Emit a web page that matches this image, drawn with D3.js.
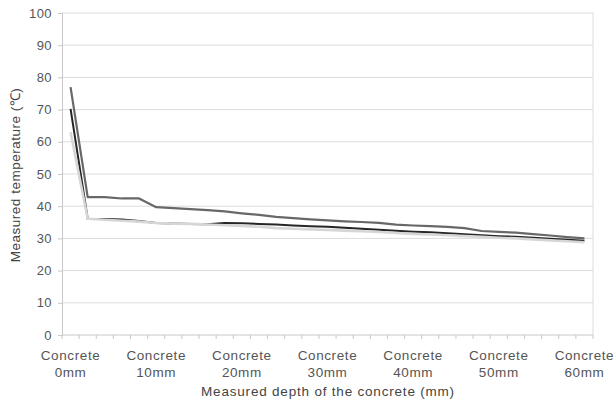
<!DOCTYPE html>
<html><head><meta charset="utf-8">
<script src="https://cdn.jsdelivr.net/npm/d3@7"></script>
<style>body{margin:0;background:#fff}svg{display:block}</style>
</head><body><svg id="c" width="613" height="406"></svg>
<script>
const depths = d3.range(0, 61, 2).map(d => d + "mm");
const labelDepths = ["0mm","10mm","20mm","30mm","40mm","50mm","60mm"];
const yTicks = [0,10,20,30,40,50,60,70,80,90,100];
const seriesTop = [77,42.8,42.8,42.4,42.4,39.7,39.4,39.1,38.8,38.4,37.8,37.3,36.7,36.3,35.9,35.6,35.3,35.1,34.8,34.3,34.0,33.8,33.6,33.2,32.3,32.0,31.8,31.3,30.9,30.4,30.0];
const seriesBlack = [70.2,36.1,36.0,35.9,35.4,34.8,34.6,34.5,34.4,34.8,34.7,34.5,34.3,34.0,33.8,33.6,33.3,33.0,32.7,32.4,32.1,31.9,31.6,31.3,31.0,30.7,30.5,30.2,29.9,29.6,29.3];
const seriesLight = [63,36.1,35.8,35.5,35.2,34.8,34.6,34.5,34.3,34.1,33.9,33.6,33.2,33.0,32.8,32.6,32.4,32.2,32.0,31.7,31.4,31.2,31.0,30.7,30.5,30.2,30.0,29.7,29.4,29.1,28.8];
const series = [
  {values: seriesBlack, color: "#262626", width: 2},
  {values: seriesLight, color: "#d6d6d6", width: 2.6},
  {values: seriesTop, color: "#686868", width: 2.2}
];

const svg = d3.select("#c");
const L = 62, R = 593, T = 13, B = 335;
const x = d3.scaleBand().domain(depths).range([L, R]);
const y = d3.scaleLinear().domain([0, 100]).range([B, T]);
const font = "'Liberation Sans', Arial, sans-serif";

// gridlines
svg.append("g").selectAll("line").data(yTicks.filter(d => d > 0)).join("line")
  .attr("x1", L).attr("x2", R).attr("y1", d => y(d)).attr("y2", d => y(d))
  .attr("stroke", "#dcdcdc").attr("stroke-width", 1);
// right border
svg.append("line").attr("x1", R).attr("x2", R).attr("y1", T).attr("y2", B)
  .attr("stroke", "#dcdcdc");

// y axis
const ya = svg.append("g").attr("transform", `translate(${L},0)`)
  .call(d3.axisLeft(y).tickValues(yTicks).tickSize(4).tickPadding(6));
ya.select(".domain").attr("stroke", "#c8c8c8");
ya.selectAll(".tick line").attr("stroke", "#c8c8c8");
ya.selectAll("text").attr("fill", "#555").style("font-family", font).style("font-size", "13px")
  .style("letter-spacing", "0.4px");

// x axis with ticks at category boundaries
const xa = svg.append("g").attr("transform", `translate(0,${B})`);
xa.append("line").attr("x1", L).attr("x2", R).attr("stroke", "#c8c8c8");
xa.selectAll("line.tk").data(depths.concat(["end"])).join("line").attr("class", "tk")
  .attr("x1", (d, i) => L + i * x.bandwidth()).attr("x2", (d, i) => L + i * x.bandwidth())
  .attr("y1", 0).attr("y2", 4).attr("stroke", "#c8c8c8");
const lab = xa.selectAll("text").data(labelDepths).join("text")
  .attr("x", d => x(d) + x.bandwidth() / 2)
  .attr("text-anchor", "middle").attr("fill", "#555")
  .style("font-family", font).style("font-size", "13.5px").style("letter-spacing", "0.6px");
lab.append("tspan").attr("x", d => x(d) + x.bandwidth() / 2).attr("y", 25).text("Concrete");
lab.append("tspan").attr("x", d => x(d) + x.bandwidth() / 2).attr("y", 42).text(d => d);

// lines
const line = d3.line().x((d, i) => x(depths[i]) + x.bandwidth() / 2).y(d => y(d));
svg.append("g").selectAll("path").data(series).join("path")
  .attr("d", s => line(s.values)).attr("fill", "none")
  .attr("stroke", s => s.color).attr("stroke-width", s => s.width)
  .attr("stroke-linejoin", "round");

// axis titles
svg.append("text").attr("x", 328).attr("y", 396).attr("text-anchor", "middle")
  .attr("fill", "#444").style("font-family", font).style("font-size", "13.5px")
  .style("letter-spacing", "0.8px")
  .text("Measured depth of the concrete (mm)");
svg.append("text").attr("transform", "translate(20,175) rotate(-90)").attr("text-anchor", "middle")
  .attr("fill", "#444").style("font-family", font).style("font-size", "13.5px")
  .style("letter-spacing", "0.5px")
  .text("Measured temperature (℃)");
</script></body></html>
